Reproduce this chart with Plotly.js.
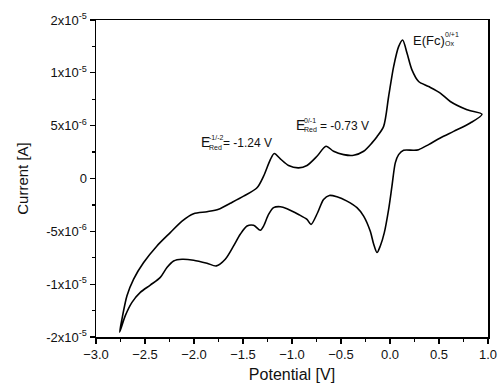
<!DOCTYPE html>
<html>
<head>
<meta charset="utf-8">
<script src="https://cdn.plot.ly/plotly-3.0.1.min.js"></script>
<style>
  html, body { margin: 0; padding: 0; background: #fff; }
  #cv { width: 500px; height: 387px; }
</style>
</head>
<body>
<div id="cv"></div>
<script>
// Cyclic voltammogram: forward (anodic) sweep from -2.76 V up to 0.94 V,
// then the reverse (cathodic) sweep back down. Currents in microamps.
const potentialForward = [
  -2.759, -2.735, -2.684, -2.616, -2.514, -2.378, -2.242, -2.122, -2.004, -1.867,
  -1.749, -1.630, -1.494, -1.357, -1.290, -1.221, -1.181, -1.119, -1.035, -0.933,
  -0.847, -0.745, -0.653, -0.576, -0.473, -0.371, -0.269, -0.184, -0.133, -0.065,
  -0.014, 0.037, 0.088, 0.129, 0.174, 0.224, 0.292, 0.394, 0.513, 0.615,
  0.786, 0.939
];
const currentForward = [
  -14.55, -13.30, -11.10, -9.52, -7.95, -6.38, -5.12, -4.03, -3.33, -3.14,
  -2.92, -2.35, -1.67, -0.88, 0.22, 1.79, 2.36, 1.86, 1.23, 1.01,
  1.23, 2.10, 3.05, 2.58, 2.26, 2.20, 2.58, 3.37, 3.95, 4.93,
  7.76, 10.59, 12.48, 13.11, 11.85, 10.28, 9.18, 8.70, 8.08, 7.29,
  6.51, 6.08
];
const potentialReverse = [
  0.819, 0.649, 0.513, 0.394, 0.292, 0.241, 0.139, 0.088, 0.054, 0.020,
  -0.014, -0.058, -0.099, -0.133, -0.167, -0.201, -0.269, -0.337, -0.439, -0.541,
  -0.619, -0.678, -0.739, -0.806, -0.847, -0.933, -1.051, -1.119, -1.188, -1.239,
  -1.290, -1.323, -1.392, -1.459, -1.528, -1.596, -1.681, -1.772, -1.867, -2.004,
  -2.122, -2.208, -2.276, -2.344, -2.446, -2.548, -2.633, -2.701, -2.759
];
const currentReverse = [
  5.25, 4.46, 3.84, 3.21, 2.73, 2.67, 2.67, 2.26, 1.48, -0.73,
  -2.92, -5.12, -6.38, -7.01, -6.20, -5.00, -3.56, -2.76, -2.14, -1.73,
  -1.60, -1.98, -3.24, -4.34, -3.87, -3.40, -2.86, -2.67, -2.76, -3.40,
  -4.50, -4.90, -4.43, -4.50, -5.28, -6.38, -7.64, -8.27, -8.02, -7.73,
  -7.64, -7.80, -8.42, -9.36, -10.09, -10.78, -11.72, -12.98, -14.55
];

// Current axis ticks (amperes) and their labels
const currentTickValues = [-15e-6, -10e-6, -5e-6, 0, 5e-6, 10e-6, 15e-6];
const currentTickLabels = [
  "-2x10<sup>-5</sup>", "-1x10<sup>-5</sup>", "-5x10<sup>-6</sup>", "0",
  "5x10<sup>-6</sup>", "1x10<sup>-5</sup>", "2x10<sup>-5</sup>"
];

const MICRO = 1e-6;
const potential = potentialForward.concat(potentialReverse);
const current = currentForward.concat(currentReverse).map(v => v * MICRO);

const ink = "#111";
const family = "Liberation Sans, Arial, sans-serif";

const trace = {
  x: potential,
  y: current,
  type: "scatter",
  mode: "lines",
  line: { color: "#000", width: 1.6, shape: "spline", smoothing: 0.8 },
  hoverinfo: "skip"
};

// Peak labels: the big "E", a stacked superscript / subscript, then the value
function label(x, y, text, size) {
  return {
    x: x, y: y * MICRO, xref: "x", yref: "y",
    text: text, showarrow: false,
    xanchor: "left", yanchor: "middle",
    font: { family: family, size: size, color: ink },
    borderpad: 0
  };
}

const annotations = [
  label(-1.938, 3.42, "E", 14),
  label(-1.860, 3.85, "-1/-2", 7),
  label(-1.860, 2.92, "Red", 7),
  label(-1.712, 3.35, "= -1.24 V", 12),

  label(-0.968, 5.07, "E", 14),
  label(-0.890, 5.50, "0/-1", 7),
  label(-0.890, 4.60, "Red", 7),
  label(-0.726, 4.97, "= -0.73 V", 12),

  label(0.222, 13.08, "E(Fc)", 13),
  label(0.547, 13.62, "0/+1", 7),
  label(0.547, 12.82, "Ox", 7)
];

const layout = {
  width: 500,
  height: 387,
  margin: { l: 96, r: 12, t: 20, b: 50 },
  paper_bgcolor: "#fff",
  plot_bgcolor: "#fff",
  showlegend: false,
  font: { family: family, size: 13, color: ink },
  xaxis: {
    range: [-3, 1],
    tick0: -3,
    dtick: 0.5,
    tickformat: ".1f",
    ticks: "outside",
    ticklen: 5,
    tickwidth: 1.2,
    tickcolor: "#000",
    showline: true,
    linecolor: "#000",
    linewidth: 1.5,
    mirror: true,
    showgrid: false,
    zeroline: false,
    tickfont: { size: 13, color: ink },
    minor: { ticks: "outside", ticklen: 3, tickwidth: 1.2, tickcolor: "#000", dtick: 0.25, tick0: -3, showgrid: false },
    title: { text: "Potential [V]", font: { size: 16, color: ink }, standoff: 7 }
  },
  yaxis: {
    range: [-15e-6, 15e-6],
    tickmode: "array",
    tickvals: currentTickValues,
    ticktext: currentTickLabels,
    ticks: "outside",
    ticklen: 5,
    tickwidth: 1.2,
    tickcolor: "#000",
    showline: true,
    linecolor: "#000",
    linewidth: 1.5,
    mirror: true,
    showgrid: false,
    zeroline: false,
    tickfont: { size: 13, color: ink },
    minor: { ticks: "outside", ticklen: 3, tickwidth: 1.2, tickcolor: "#000", dtick: 2.5e-6, tick0: 0, showgrid: false },
    title: { text: "Current [A]", font: { size: 15, color: ink }, standoff: 14 }
  },
  annotations: annotations
};

Plotly.newPlot("cv", [trace], layout, { staticPlot: true, displayModeBar: false });
</script>
</body>
</html>
